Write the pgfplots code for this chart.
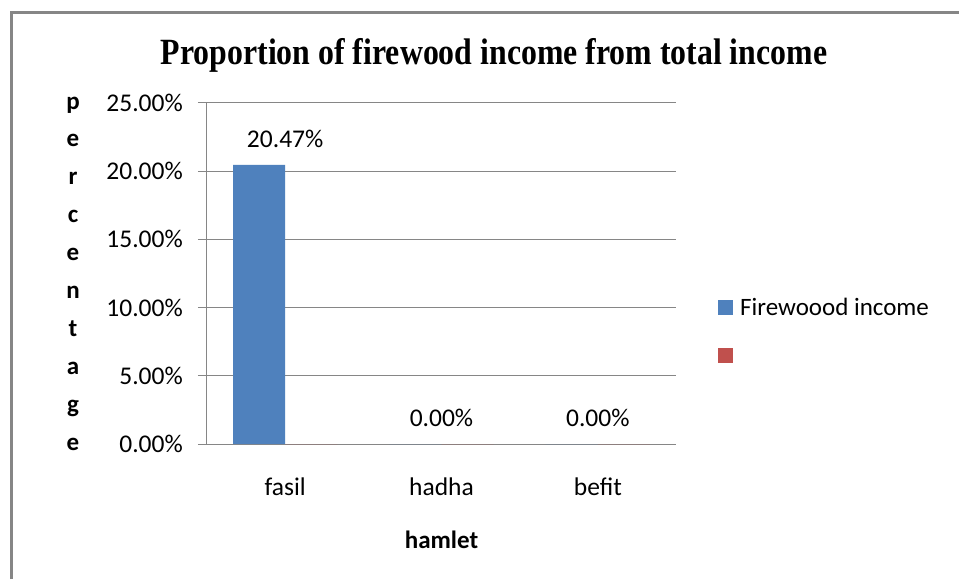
\documentclass[border=0pt]{standalone}
\usepackage{pgfplots}
\pgfplotsset{compat=1.18}
\usepackage{fontspec}
\setmainfont{Carlito}
\newfontfamily\titlefont[FakeStretch=0.86]{Liberation Serif}
\newfontfamily\boldsans{Carlito}
\definecolor{barblue}{HTML}{4F81BD}
\definecolor{barred}{HTML}{C0504D}
\definecolor{axgray}{HTML}{868686}
\begin{document}
\begin{tikzpicture}[x=1pt,y=1pt]
\useasboundingbox (0,0) rectangle (959,579);
\fill[white] (0,0) rectangle (959,579);
\draw[line width=3pt, axgray] (11.5,0) -- (11.5,566.5) -- (959,566.5);
\node[anchor=base, font=\titlefont\bfseries\fontsize{37}{40}\selectfont] at (494,514) {Proportion of firewood income from total income};
\begin{axis}[
  at={(207pt,135pt)}, anchor=south west,
  scale only axis, width=469pt, height=341pt,
  clip=false,
  xmin=-0.5, xmax=2.5, ymin=0, ymax=25,
  axis x line*=bottom, axis y line*=left,
  axis line style={axgray, line width=1pt, -},
  xtick={0,1,2}, xticklabels={fasil,hadha,befit},
  major x tick style={draw=none},
  extra x ticks={-0.5,0.5,1.5,2.5}, extra x tick labels={},
  extra x tick style={major tick length=9pt, tick style={axgray, line width=1pt}, grid=none},
  ytick={0,5,10,15,20,25},
  ymajorgrids, major grid style={axgray, line width=1pt},
  tick align=outside, major tick length=9pt,
  y tick style={axgray, line width=1pt},
  /pgf/number format/assume math mode=true,
  yticklabel={\pgfmathprintnumber[fixed,fixed zerofill,precision=2]{\tick}\%},
  tick label style={font=\fontsize{25.5}{30}\selectfont, text=black},
  y tick label style={inner sep=0pt, anchor=east, xshift=-15pt},
  x tick label style={inner sep=0pt, anchor=base, yshift=-42pt},
  xlabel={\boldsans\bfseries hamlet},
  xlabel style={at={(axis description cs:0.5,0)}, anchor=base, inner sep=0pt, yshift=-104pt, font=\fontsize{25}{30}\selectfont},
  ylabel={p\\e\\r\\c\\e\\n\\t\\a\\g\\e},
  every axis y label/.style={at={(axis description cs:-0.2857,0.5)}, anchor=center, align=center, inner sep=0pt, font=\boldsans\bfseries\fontsize{25}{37.9}\selectfont},
  legend style={draw=none, fill=none, at={(axis description cs:1.0896,0.337)}, anchor=west, inner sep=0pt, row sep=29pt, font=\fontsize{25}{30}\selectfont, legend cell align=left,
    nodes={inner xsep=7pt}},
  legend image code/.code={\fill[#1] (0pt,-7.5pt) rectangle (15pt,7.5pt);},
]
\addplot[ybar, bar width=0.333, bar shift=-0.1667, fill=barblue, draw=none,
  nodes near coords={\pgfmathprintnumber[fixed,fixed zerofill,precision=2]{\pgfplotspointmeta}\%},
  every node near coord/.append style={font=\fontsize{25.5}{30}\selectfont, text=black, anchor=south, yshift=14pt}]
  coordinates {(0,20.47) (1,0) (2,0)};
\addlegendentry{Firewoood income}
\addplot[ybar, bar width=0.333, bar shift=0.1667, fill=barred, draw=none]
  coordinates {(0,0) (1,0) (2,0)};
\addlegendentry{}
\end{axis}
\end{tikzpicture}
\end{document}
